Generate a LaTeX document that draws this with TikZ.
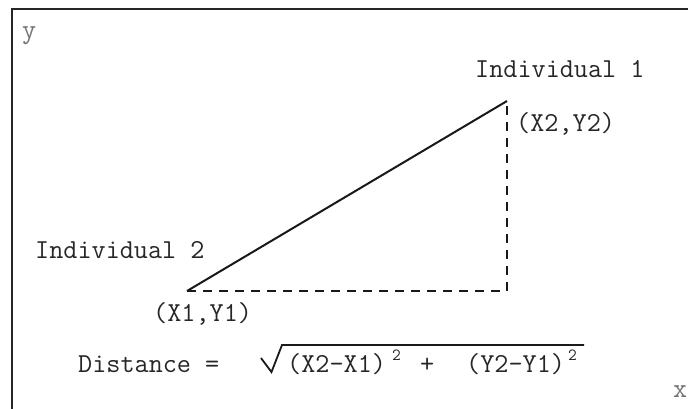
\documentclass[tikz,border=0pt]{standalone}
\usepackage{fontspec}
\begin{document}
\begin{tikzpicture}[x=1pt,y=-1pt,
  lbl/.style={anchor=base west, inner sep=0pt, font=\ttfamily\fontsize{27.4}{27.4}\selectfont, text=black!85},
  axislbl/.style={lbl, text=black!55},
  suplbl/.style={anchor=base west, inner sep=0pt, font=\ttfamily\fontsize{17}{17}\selectfont, text=black!85},
  frameline/.style={line width=2pt, black!85},
  solidline/.style={line width=2pt, black!90},
  dashline/.style={line width=1.8pt, black!90, dash pattern=on 9pt off 7pt}]
\useasboundingbox (0,0) rectangle (688,408);
% frame (right and bottom edges lie outside the picture)
\draw[frameline] (12,430) -- (12,9) -- (710,9);
% points
\coordinate (p1) at (187,291);
\coordinate (p2) at (507,101);
\coordinate (corner) at (507,291);
\draw[solidline] (p1) -- (p2);
\draw[dashline] (p1) -- (corner) -- (p2);
% labels
\node[axislbl] (ylbl) at (22,38) {y};
\node[axislbl] (xlbl) at (673,397) {x};
\node[lbl] (ind1) at (475,77) {Individual 1};
\node[lbl] (xy2) at (516,131) {(X2,Y2)};
\node[lbl] (ind2) at (35,258) {Individual 2};
\node[lbl] (xy1) at (153,321) {(X1,Y1)};
% formula
\node[lbl] (dist) at (78,372) {Distance =};
\draw[line width=1.8pt, black!90] (261,358) -- (271.5,372) -- (282,345) -- (584,345);
\node[lbl] (dx) at (287,372) {(X2-X1)};
\node[suplbl] (sq1) at (392,360) {2};
\node[lbl] (plus) at (420,372) {+};
\node[lbl] (dy) at (466,372) {(Y2-Y1)};
\node[suplbl] (sq2) at (568,360) {2};
\end{tikzpicture}
\end{document}
